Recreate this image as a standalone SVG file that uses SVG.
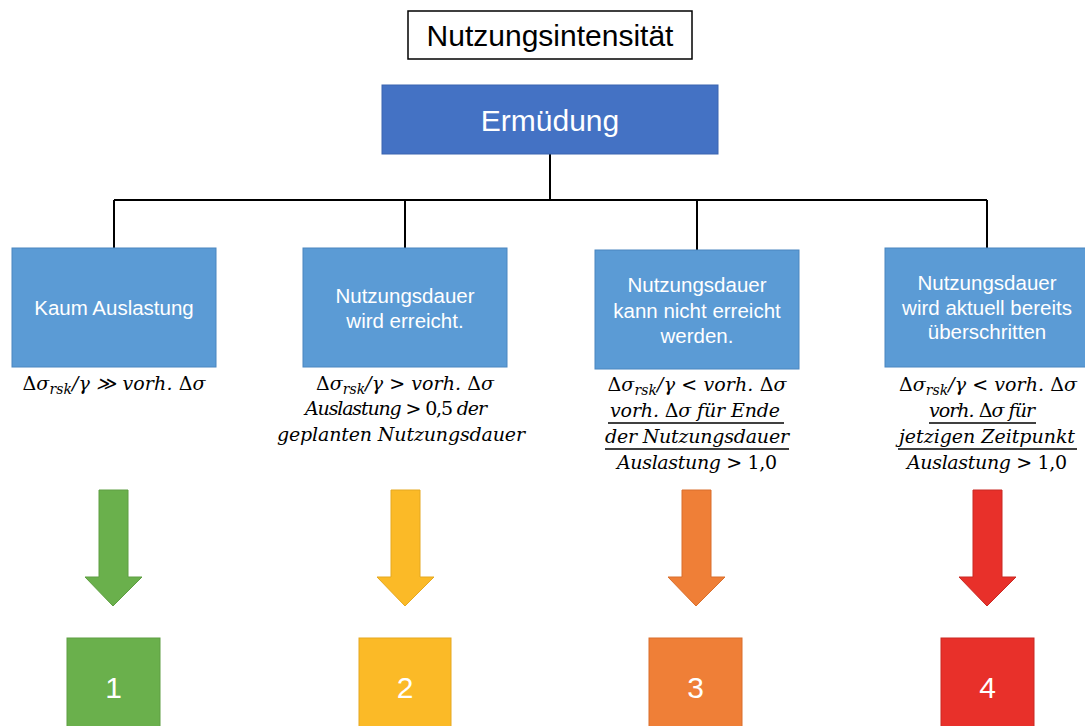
<svg xmlns="http://www.w3.org/2000/svg" width="1085" height="726" viewBox="0 0 1085 726">
<style>
.t{font-family:"Liberation Sans",Arial,sans-serif;fill:#fff;text-anchor:middle;font-size:20.5px}
.box{fill:#5B9BD5;stroke:#4A86C0;stroke-width:1}
.m{font-family:"DejaVu Serif","Liberation Serif",serif;font-style:italic;font-size:19px;fill:#000;text-anchor:middle}
.u{font-style:normal}
.s{font-size:14px}
.ul{stroke:#000;stroke-width:1.3}
.con{stroke:#000;stroke-width:2;fill:none}
.num{font-family:"Liberation Sans",Arial,sans-serif;font-size:30px;fill:#fff;text-anchor:middle}
</style>
<rect width="1085" height="726" fill="#fff"/>
<g id="title">
<rect x="408" y="11" width="284" height="48" fill="#fff" stroke="#000" stroke-width="1.5"/>
<text x="550" y="46" font-family="Liberation Sans,Arial,sans-serif" font-size="30" text-anchor="middle" fill="#000">Nutzungsintensität</text>
</g>
<g id="connectors">
<path class="con" d="M550 154V200M114 200H987M114 200V248M405 200V248M697 200V250M987 200V248"/>
</g>
<g id="ermuedung">
<rect x="382" y="85" width="336" height="69" fill="#4472C4" stroke="#3A64B0"/>
<text class="t" x="550" y="131" style="font-size:30px">Ermüdung</text>
</g>
<g id="n1">
<rect class="box" x="12" y="248" width="204" height="119"/>
<text class="t" x="114" y="315">Kaum Auslastung</text>
<text class="m" x="114" y="390" textLength="183" lengthAdjust="spacing"><tspan class="u">Δ</tspan>σ<tspan class="s" dy="4">rsk</tspan><tspan dy="-4">/γ ≫ vorh. </tspan><tspan class="u">Δ</tspan>σ</text>
</g>
<g id="n2">
<rect class="box" x="303" y="248" width="204" height="119"/>
<text class="t" x="405" y="303">Nutzungsdauer</text>
<text class="t" x="405" y="328">wird erreicht.</text>
<text class="m" x="405" y="390" textLength="178" lengthAdjust="spacing"><tspan class="u">Δ</tspan>σ<tspan class="s" dy="4">rsk</tspan><tspan dy="-4">/γ &gt; vorh. </tspan><tspan class="u">Δ</tspan>σ</text>
<text class="m" x="396" y="415" textLength="182" lengthAdjust="spacing">Auslastung &gt; <tspan class="u">0,5</tspan> der</text>
<text class="m" x="401" y="441" textLength="248" lengthAdjust="spacing">geplanten Nutzungsdauer</text>
</g>
<g id="n3">
<rect class="box" x="595" y="250" width="204" height="119"/>
<text class="t" x="697" y="292">Nutzungsdauer</text>
<text class="t" x="697" y="318">kann nicht erreicht</text>
<text class="t" x="697" y="343">werden.</text>
<text class="m" x="697" y="391" textLength="179" lengthAdjust="spacing"><tspan class="u">Δ</tspan>σ<tspan class="s" dy="4">rsk</tspan><tspan dy="-4">/γ &lt; vorh. </tspan><tspan class="u">Δ</tspan>σ</text>
<text class="m" x="695" y="417" textLength="170" lengthAdjust="spacing">vorh. <tspan class="u">Δ</tspan>σ für Ende</text>
<line class="ul" x1="608" y1="423" x2="784" y2="423"/>
<text class="m" x="697" y="443" textLength="184" lengthAdjust="spacing">der Nutzungsdauer</text>
<line class="ul" x1="605" y1="449" x2="789" y2="449"/>
<text class="m" x="697" y="469" textLength="160" lengthAdjust="spacing">Auslastung &gt; <tspan class="u">1,0</tspan></text>
</g>
<g id="n4">
<rect class="box" x="885" y="248" width="205" height="119"/>
<text class="t" x="987" y="290">Nutzungsdauer</text>
<text class="t" x="987" y="315">wird aktuell bereits</text>
<text class="t" x="987" y="339">überschritten</text>
<text class="m" x="988" y="391" textLength="178" lengthAdjust="spacing"><tspan class="u">Δ</tspan>σ<tspan class="s" dy="4">rsk</tspan><tspan dy="-4">/γ &lt; vorh. </tspan><tspan class="u">Δ</tspan>σ</text>
<text class="m" x="982" y="417" textLength="106" lengthAdjust="spacing">vorh. <tspan class="u">Δ</tspan>σ für</text>
<line class="ul" x1="929" y1="423" x2="1036" y2="423"/>
<text class="m" x="987" y="443" textLength="176" lengthAdjust="spacing">jetzigen Zeitpunkt</text>
<line class="ul" x1="898" y1="449" x2="1077" y2="449"/>
<text class="m" x="987" y="469" textLength="160" lengthAdjust="spacing">Auslastung &gt; <tspan class="u">1,0</tspan></text>
</g>
<g id="arrow1"><path d="M99 490H128V577H142L113 606L85 577H99Z" fill="#6AB04C" stroke="#5E9E42"/></g>
<g id="arrow2"><path d="M391 490H420V577H434L405 606L377 577H391Z" fill="#FBBA27" stroke="#E5A820"/></g>
<g id="arrow3"><path d="M682 490H711V577H725L696 606L668 577H682Z" fill="#EF7F37" stroke="#D96F2C"/></g>
<g id="arrow4"><path d="M973 490H1002V577H1016L987 606L959 577H973Z" fill="#E8302A" stroke="#C92822"/></g>
<g id="level1"><rect x="67" y="638" width="93" height="95" fill="#6AB04C" stroke="#5E9E42"/><text class="num" x="113.5" y="698">1</text></g>
<g id="level2"><rect x="359" y="638" width="92" height="95" fill="#FBBA27" stroke="#E5A820"/><text class="num" x="405" y="698">2</text></g>
<g id="level3"><rect x="649" y="638" width="93" height="95" fill="#EF7F37" stroke="#D96F2C"/><text class="num" x="695.5" y="698">3</text></g>
<g id="level4"><rect x="941" y="638" width="93" height="95" fill="#E8302A" stroke="#C92822"/><text class="num" x="987.5" y="698">4</text></g>
</svg>
